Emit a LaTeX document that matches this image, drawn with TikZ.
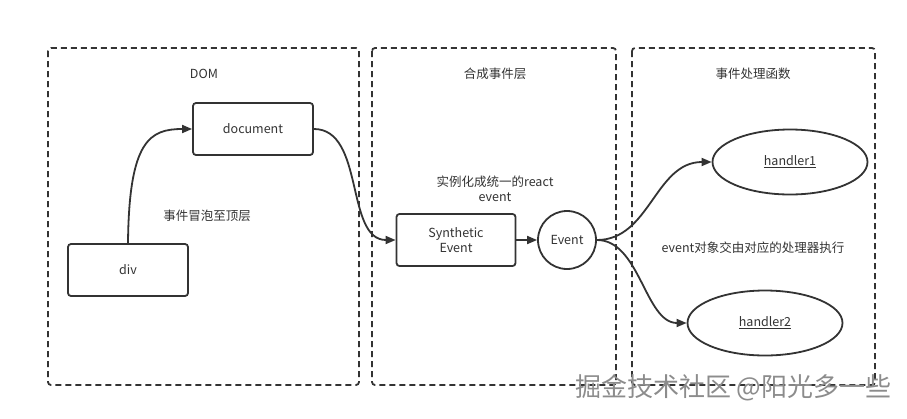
\documentclass[tikz,border=0pt]{standalone}
\usepackage{fontspec}
\setmainfont{Noto Sans CJK SC}
\usetikzlibrary{arrows.meta}
\definecolor{ink}{HTML}{333333}
\tikzset{
  lane/.style={draw=ink, line width=1.8pt, dash pattern=on 6pt off 4pt, rounded corners=3pt},
  box/.style={draw=ink, line width=1.8pt, rounded corners=3pt, align=center, font=\fontsize{12.5}{14}\selectfont, text=ink},
  oval/.style={draw=ink, line width=1.8pt, ellipse, font=\fontsize{12.5}{14}\selectfont, text=ink},
  lbl/.style={font=\fontsize{12.5}{15}\selectfont, text=ink, align=center},
  conn/.style={draw=ink, line width=1.8pt, -{Triangle[length=10pt,width=8pt]}},
}
\usetikzlibrary{shapes.geometric}
\begin{document}
\begin{tikzpicture}[x=1pt,y=-1pt]
\useasboundingbox (0,0) rectangle (907,418);
% lanes
\draw[lane] (48,48) rectangle (359,385);
\draw[lane] (372,48) rectangle (616,385);
\draw[lane] (632,48) rectangle (875,385);
% titles
\node[lbl] (t1) at (204,74) {DOM};
\node[lbl] (t2) at (495,74) {合成事件层};
\node[lbl] (t3) at (753,74) {事件处理函数};
% nodes
\node[box, minimum width=120pt, minimum height=52pt] (doc) at (253,129) {document};
\node[box, minimum width=120pt, minimum height=52pt] (div) at (128,270) {div};
\node[box, minimum width=119pt, minimum height=52pt, font=\fontsize{12.5}{15}\selectfont] (syn) at (456,240) {Synthetic\\Event};
\node[draw=ink, line width=1.8pt, circle, minimum size=58pt, inner sep=0pt, font=\fontsize{12.5}{14}\selectfont, text=ink] (ev) at (567,240) {Event};
\node[oval, minimum width=155pt, minimum height=65pt] (h1) at (790,162) {\underline{handler1}};
\node[oval, minimum width=155pt, minimum height=65pt] (h2) at (765,323) {\underline{handler2}};
% labels
\node[lbl] (l1) at (207,216) {事件冒泡至顶层};
\node[lbl] (l2) at (495,189) {实例化成统一的react\\event};
\node[lbl] (l3) at (753,248) {event对象交由对应的处理器执行};
% connectors
\draw[conn] (div.north) .. controls (129,140) and (150,129) .. (doc.west);
\draw[conn] (doc.east) .. controls (365,129) and (345,240) .. (syn.west);
\draw[conn] (syn.east) -- (ev.west);
\draw[conn] (ev.east) .. controls (650,240) and (655,162) .. (h1.west);
\draw[conn] (ev.east) .. controls (640,240) and (645,323) .. (h2.west);
% watermark
\node[font=\fontsize{26}{28}\selectfont, text=black!45, anchor=east] (wm) at (895,388) {掘金技术社区 @阳光多一些};
\end{tikzpicture}
\end{document}
